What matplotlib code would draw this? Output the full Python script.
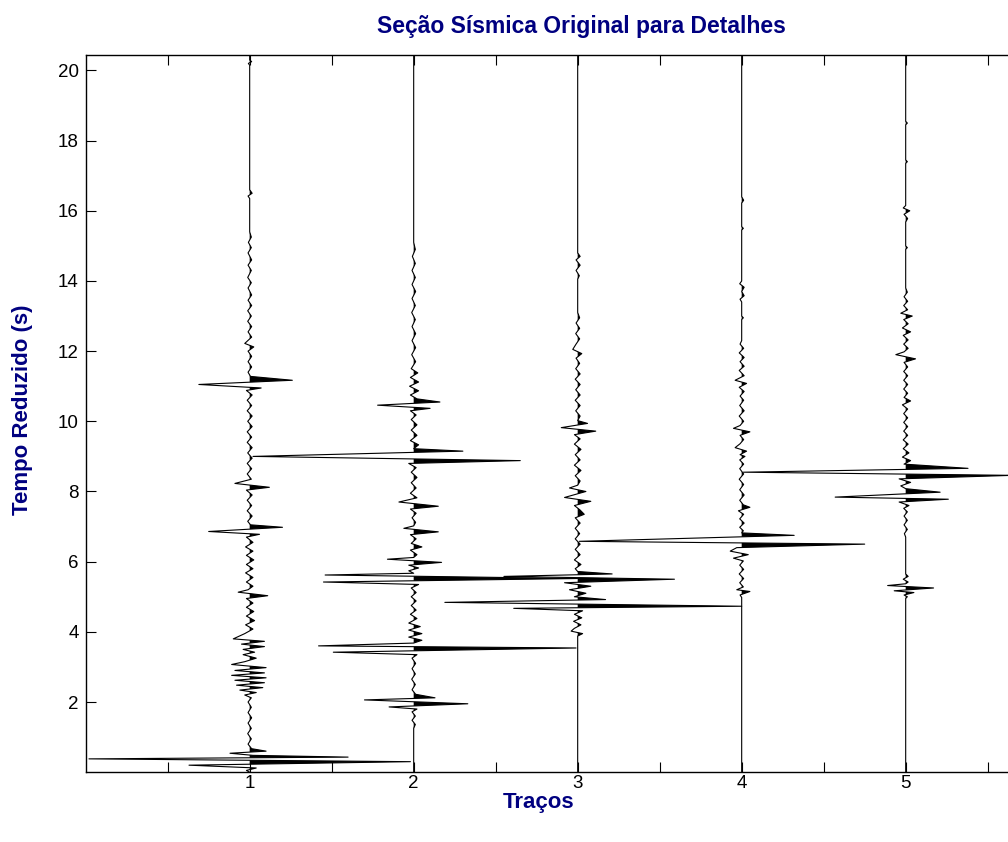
import numpy as np
import matplotlib
matplotlib.use("Agg")
import matplotlib.pyplot as plt

plt.rcParams['font.family'] = ['Liberation Sans', 'DejaVu Sans']

# samples (tempo reduzido [s], amplitude), top to bottom
trace1 = [
    (20.45, 0), (20.3, 0), (20.25, 0.012), (20.2, -0.008), (20.15, 0),
    (16.6, 0), (16.5, 0.015), (16.42, -0.01), (16.35, 0),
    (15.4, 0), (15.25, 0.01), (15.1, -0.008), (14.95, 0.01), (14.8, -0.01), (14.6, 0.012),
    (14.45, -0.01), (14.3, 0.01), (14.1, -0.012), (13.95, 0.01), (13.8, -0.01), (13.6, 0.012),
    (13.45, -0.01), (13.3, 0.012), (13.15, -0.012), (13.0, 0.01), (12.85, -0.012), (12.7, 0.012),
    (12.55, -0.01), (12.4, 0.012), (12.22, -0.03), (12.12, 0.025), (12.0, -0.01), (11.85, 0.012),
    (11.7, -0.01), (11.55, 0.012), (11.4, -0.01), (11.28, 0.005),
    (11.17, 0.26), (11.05, -0.31), (10.95, 0.07), (10.88, -0.02),
    (10.75, 0.015), (10.6, -0.015), (10.45, 0.012), (10.3, -0.015), (10.15, 0.015), (10.0, -0.012),
    (9.85, 0.015), (9.7, -0.015), (9.55, 0.012), (9.4, -0.015), (9.25, 0.015), (9.1, -0.012),
    (8.95, 0.015), (8.8, -0.015), (8.65, 0.012), (8.5, -0.015), (8.35, 0.01),
    (8.23, -0.09), (8.12, 0.12), (8.04, -0.02),
    (7.9, 0.015), (7.75, -0.015), (7.6, 0.012), (7.45, -0.015), (7.3, 0.015), (7.15, -0.012), (7.05, 0.005),
    (6.98, 0.2), (6.86, -0.25), (6.78, 0.06), (6.7, -0.02),
    (6.55, 0.02), (6.42, -0.025), (6.3, 0.02), (6.18, -0.02), (6.05, 0.025), (5.92, -0.02),
    (5.8, 0.02), (5.68, -0.025), (5.55, 0.02), (5.42, -0.02), (5.3, 0.02), (5.2, -0.01),
    (5.13, -0.07), (5.03, 0.11), (4.95, -0.02),
    (4.82, 0.02), (4.7, -0.02), (4.58, 0.025), (4.45, -0.02), (4.32, 0.03), (4.2, -0.025),
    (4.08, 0.02), (3.95, -0.03),
    (3.8, -0.10), (3.73, 0.09), (3.65, -0.05), (3.58, 0.09), (3.5, -0.04), (3.42, 0.03),
    (3.35, -0.04), (3.25, 0.04), (3.15, -0.03), (3.07, -0.11), (2.98, 0.10), (2.9, -0.09),
    (2.83, 0.09), (2.76, -0.11), (2.69, 0.10), (2.62, -0.09), (2.55, 0.09), (2.48, -0.08),
    (2.41, 0.08), (2.34, -0.06), (2.27, 0.04), (2.2, -0.03), (2.12, 0.01),
    (2.0, -0.01), (1.85, 0.01), (1.7, -0.01), (1.55, 0.012), (1.4, -0.01), (1.25, 0.01),
    (1.1, -0.012), (0.95, 0.01), (0.8, -0.01), (0.67, 0.012),
    (0.6, 0.10), (0.54, -0.12), (0.48, 0.02), (0.43, 0.60), (0.38, -0.98), (0.3, 0.98),
    (0.2, -0.37), (0.12, 0.04), (0.05, -0.02), (0.0, 0.0),
]

trace2 = [
    (20.45, 0), (15.1, 0), (14.9, 0.01), (14.7, -0.008), (14.5, 0.01), (14.3, -0.01), (14.1, 0.01),
    (13.9, -0.01), (13.7, 0.012), (13.5, -0.01), (13.3, 0.01), (13.1, -0.012), (12.9, 0.01),
    (12.7, -0.01), (12.5, 0.012), (12.3, -0.01), (12.1, 0.012), (11.9, -0.012), (11.7, 0.012),
    (11.5, -0.015), (11.38, 0.025), (11.25, -0.02), (11.12, 0.03), (11.0, -0.025), (10.87, 0.03),
    (10.75, -0.02), (10.64, 0.02),
    (10.55, 0.16), (10.46, -0.22), (10.37, 0.10), (10.3, -0.02),
    (10.18, 0.015), (10.05, -0.015), (9.9, 0.02), (9.75, -0.015), (9.6, 0.02), (9.45, -0.02),
    (9.33, 0.03), (9.22, 0.0),
    (9.15, 0.30), (9.0, -0.98), (8.88, 0.65), (8.8, -0.03),
    (8.68, 0.015), (8.55, -0.015), (8.4, 0.02), (8.25, -0.015), (8.1, 0.015), (7.95, -0.02), (7.82, 0.02),
    (7.7, -0.09), (7.58, 0.15), (7.5, -0.02),
    (7.38, 0.015), (7.25, -0.01), (7.12, 0.012), (7.02, 0.0),
    (6.95, -0.06), (6.85, 0.15), (6.77, -0.02),
    (6.65, 0.015), (6.52, -0.015), (6.42, 0.05), (6.33, -0.02), (6.2, 0.02), (6.12, 0.0),
    (6.07, -0.16), (5.98, 0.17), (5.9, -0.03), (5.82, 0.03), (5.74, -0.03), (5.67, 0.0),
    (5.62, -0.54), (5.52, 1.0), (5.42, -0.55), (5.35, 0.03),
    (5.25, -0.015), (5.12, 0.015), (5.0, -0.015), (4.88, 0.015), (4.75, -0.015), (4.62, 0.015),
    (4.5, -0.02), (4.38, 0.02), (4.25, -0.03), (4.15, 0.04), (4.05, -0.03), (3.95, 0.05),
    (3.85, -0.03), (3.76, 0.05), (3.68, 0.0),
    (3.6, -0.58), (3.54, 0.99), (3.42, -0.49), (3.35, 0.02),
    (3.25, -0.01), (3.1, 0.012), (2.95, -0.01), (2.8, 0.01), (2.65, -0.012), (2.5, 0.01),
    (2.35, -0.01), (2.22, 0.012),
    (2.12, 0.13), (2.06, -0.30), (1.95, 0.33), (1.86, -0.15), (1.8, 0.02),
    (1.72, -0.01), (1.6, 0.01), (1.48, -0.01), (1.36, 0.01), (1.25, 0.0), (0.0, 0.0),
]

trace3 = [
    (20.45, 0), (14.8, 0), (14.7, 0.015), (14.6, -0.01), (14.45, 0.015), (14.3, -0.01),
    (14.15, 0.01), (14.05, 0),
    (13.1, 0), (12.95, 0.012), (12.8, -0.01), (12.65, 0.012), (12.5, -0.012), (12.35, 0.012),
    (12.2, -0.01), (12.05, -0.03), (11.93, 0.025), (11.8, -0.01), (11.65, 0.012), (11.5, -0.012),
    (11.35, 0.015), (11.2, -0.015), (11.05, 0.015), (10.9, -0.012), (10.75, 0.015), (10.6, -0.015),
    (10.45, 0.015), (10.3, -0.012), (10.15, 0.015), (10.02, 0.0),
    (9.94, 0.06), (9.82, -0.10), (9.72, 0.11), (9.62, -0.02),
    (9.5, 0.015), (9.35, -0.02), (9.2, 0.02), (9.05, -0.015), (8.9, 0.015), (8.75, -0.02),
    (8.6, 0.02), (8.45, -0.015), (8.3, 0.015), (8.18, 0.0),
    (8.1, -0.05), (8.0, 0.05), (7.83, -0.08), (7.72, 0.08), (7.6, -0.02), (7.47, 0.015),
    (7.35, 0.04), (7.25, -0.015),
    (7.1, 0.015), (6.95, -0.015), (6.8, 0.012), (6.65, -0.015), (6.5, 0.015), (6.35, -0.015),
    (6.2, 0.015), (6.05, -0.02), (5.92, 0.02), (5.8, -0.015), (5.72, 0.0),
    (5.65, 0.21), (5.58, -0.45), (5.5, 0.59), (5.4, -0.08), (5.3, 0.08), (5.2, -0.05),
    (5.1, 0.05), (5.0, -0.02),
    (4.92, 0.17), (4.84, -0.81), (4.73, 1.0), (4.67, -0.39), (4.6, 0.03),
    (4.5, -0.02), (4.4, 0.025), (4.3, -0.025), (4.2, 0.02), (4.1, -0.02), (4.02, -0.04),
    (3.95, 0.03), (3.88, 0.0), (0.0, 0.0),
]

trace4 = [
    (20.45, 0), (16.4, 0), (16.3, 0.012), (16.22, 0), (15.55, 0), (15.5, 0.01), (15.45, 0),
    (14.0, 0), (13.92, -0.012), (13.82, 0.015), (13.7, 0.0), (13.58, 0.015), (13.48, -0.01), (13.4, 0),
    (13.0, 0), (12.95, 0.01), (12.9, 0),
    (12.3, 0), (12.2, -0.01), (12.08, 0.012), (11.95, -0.015), (11.82, 0.015), (11.7, -0.01),
    (11.57, 0.015), (11.45, -0.015), (11.3, 0.015), (11.17, -0.04), (11.08, 0.03), (10.97, -0.015),
    (10.85, 0.015), (10.72, -0.01), (10.6, 0.012), (10.45, -0.012), (10.3, 0.015), (10.15, -0.015),
    (10.0, 0.012), (9.88, -0.01),
    (9.8, -0.05), (9.7, 0.05), (9.6, -0.01),
    (9.48, 0.012), (9.36, -0.01), (9.25, -0.04), (9.15, 0.03), (9.05, -0.01), (9.0, 0.02),
    (8.9, -0.012), (8.78, 0.012), (8.65, -0.012), (8.5, 0.012), (8.35, -0.015), (8.2, 0.012),
    (8.05, -0.012), (7.9, 0.015), (7.75, -0.012), (7.62, 0.01),
    (7.55, 0.05), (7.45, -0.02),
    (7.35, 0.012), (7.22, -0.012), (7.1, 0.015), (6.98, -0.012), (6.88, 0.01), (6.82, 0.0),
    (6.75, 0.32), (6.58, -0.99), (6.5, 0.75), (6.4, -0.03), (6.3, -0.07), (6.2, 0.04),
    (6.1, -0.05), (6.02, 0.01),
    (5.9, -0.012), (5.78, 0.012), (5.65, -0.015), (5.52, 0.012), (5.4, -0.012), (5.28, 0.01),
    (5.2, -0.03), (5.15, 0.05), (5.05, -0.01), (4.98, 0.0), (0.0, 0.0),
]

trace5 = [
    (20.45, 0), (18.55, 0), (18.5, 0.01), (18.45, 0), (17.45, 0), (17.4, 0.01), (17.35, 0),
    (16.15, 0), (16.08, -0.015), (16.0, 0.025), (15.9, -0.01), (15.78, 0.012), (15.68, 0.0),
    (15.0, 0), (14.95, 0.01), (14.9, 0),
    (13.8, 0), (13.68, 0.01), (13.55, -0.01), (13.42, 0.012), (13.3, -0.012), (13.18, 0.012),
    (13.08, -0.03), (13.0, 0.04), (12.9, -0.012), (12.78, 0.015), (12.66, -0.02), (12.55, 0.03),
    (12.45, -0.015), (12.32, 0.015), (12.2, -0.012), (12.08, 0.015), (11.98, -0.01),
    (11.9, -0.06), (11.78, 0.06), (11.68, -0.01),
    (11.55, 0.012), (11.42, -0.012), (11.3, 0.012), (11.17, -0.012), (11.05, 0.012), (10.92, -0.012),
    (10.8, 0.012), (10.68, -0.01), (10.58, 0.03), (10.47, -0.02), (10.35, 0.012), (10.22, -0.012),
    (10.1, 0.012), (9.97, -0.012), (9.85, 0.012), (9.72, -0.012), (9.6, 0.012), (9.47, -0.015),
    (9.35, 0.015), (9.22, -0.015), (9.1, 0.02), (8.98, -0.02), (8.88, 0.03), (8.78, -0.01),
    (8.66, 0.38), (8.55, -0.99), (8.46, 0.65), (8.36, -0.04), (8.26, 0.03), (8.16, -0.03), (8.08, 0.0),
    (7.98, 0.21), (7.84, -0.43), (7.78, 0.26), (7.7, -0.04), (7.6, 0.02), (7.52, -0.012),
    (7.42, 0.01), (7.3, -0.01), (7.18, 0.01), (7.05, -0.01), (6.92, 0.01), (6.8, -0.008), (6.7, 0.0),
    (5.65, 0.0), (5.58, 0.015), (5.5, -0.015), (5.42, 0.015), (5.37, 0.0),
    (5.32, -0.11), (5.25, 0.17), (5.17, -0.07), (5.12, 0.05), (5.05, -0.01),
    (5.0, 0.01), (4.95, 0.0), (0.0, 0.0),
]

traces = [trace1, trace2, trace3, trace4, trace5]
offsets = [1, 2, 3, 4, 5]

navy = "#000080"

fig = plt.figure(figsize=(10.08, 8.42), dpi=100)
# right edge of the frame falls outside the picture, as in the original
ax = fig.add_axes([0.0850, 0.0829, 0.9762, 0.8522])

for x0, tr in zip(offsets, traces):
    tr = np.array(tr, dtype=float)
    t, a = tr[:, 0], tr[:, 1]
    ax.fill_betweenx(t, x0, x0 + a, where=a > 0, interpolate=True,
                     color="k", linewidth=0)
    ax.plot(x0 + a, t, color="k", linewidth=0.8)

ax.set_xlim(0, 6)
ax.set_ylim(0, 20.45)

xt = np.arange(0.5, 6.0, 0.5)
ax.set_xticks(xt)
ax.set_xticklabels([str(int(v)) if v == int(v) else "" for v in xt])
ax.set_yticks(np.arange(2, 21, 2))
ax.tick_params(direction="in", length=7, width=0.8, top=True, right=True,
               labelsize=13.5)
ax.tick_params(axis="x", pad=2)
ax.tick_params(axis="y", pad=5)
for s in ax.spines.values():
    s.set_linewidth(1.0)

fig.text(0.577, 0.968, "Seção Sísmica Original para Detalhes", ha="center", va="center",
         fontsize=16.5, fontweight="bold", color=navy)
fig.text(0.534, 0.0475, "Traços", ha="center", va="center",
         fontsize=16, fontweight="bold", color=navy)
fig.text(0.022, 0.513, "Tempo Reduzido (s)", ha="center", va="center", rotation=90,
         fontsize=16, fontweight="bold", color=navy)

fig.savefig("out.png", dpi=100)
